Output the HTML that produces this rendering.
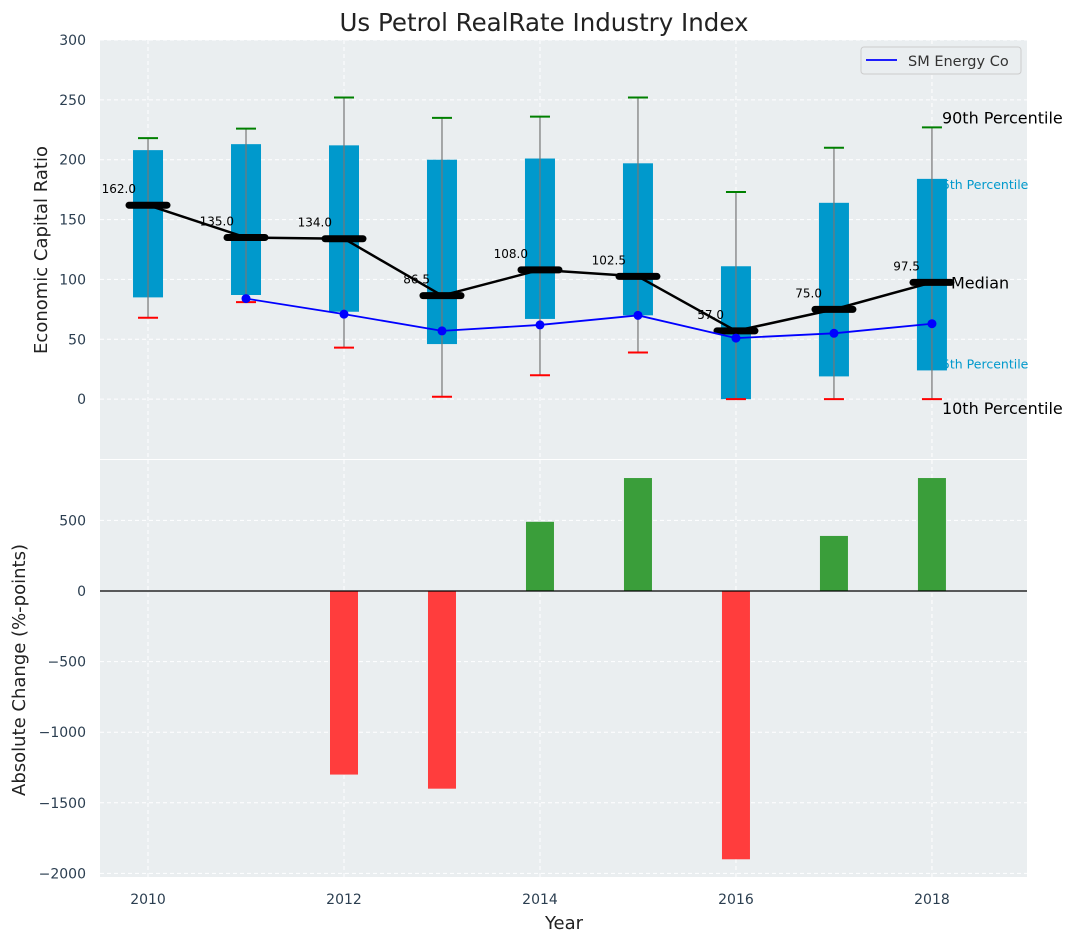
<!DOCTYPE html>
<html><head><meta charset="utf-8"><style>
body{margin:0;background:#fff;font-family:"Liberation Sans","DejaVu Sans",sans-serif}
svg text{font-family:"DejaVu Sans","Liberation Sans",sans-serif}
</style></head><body>
<svg id="c" width="1077" height="942" xmlns="http://www.w3.org/2000/svg"></svg>
<script>
const years=[2010,2011,2012,2013,2014,2015,2016,2017,2018];
const p10=[68,81,43,2,20,39,0,0,0];
const q25=[85,87,73,46,67,70,0,19,24];
const medians=[162,135,134,86.5,108,102.5,57,75,97.5];
const q75=[208,213,212,200,201,197,111,164,184];
const p90=[218,226,252,235,236,252,173,210,227];
const smYears=[2011,2012,2013,2014,2015,2016,2017,2018];
const smValues=[84,71,57,62,70,51,55,63];
const changeYears=[2012,2013,2014,2015,2016,2017,2018];
const changeValues=[-1300,-1400,490,800,-1900,390,800];
const topTicks=[0,50,100,150,200,250,300];
const botTicks=[-2000,-1500,-1000,-500,0,500];
const xTicks=[2010,2012,2014,2016,2018];

const NS="http://www.w3.org/2000/svg";
const svg=document.getElementById('c');
function el(tag,attrs,parent,text){const e=document.createElementNS(NS,tag);for(const k in attrs)e.setAttribute(k,attrs[k]);if(text!==undefined)e.textContent=text;(parent||svg).appendChild(e);return e;}
const L=100,R=1027;
const x=v=>L+(v-2009.51)/(2018.97-2009.51)*(R-L);
const T0=40,T1=459;
const yT=v=>T0+(300-v)/(350)*(T1-T0);
const B0=460,B1=877;
const yB=v=>591-v*(70.6/500);

let g=el('rect',{x:L,y:T0,width:R-L,height:T1-T0,fill:'#eaeef0'});

g=el('rect',{x:L,y:B0,width:R-L,height:B1-B0,fill:'#eaeef0'});


const grid=el('g',{stroke:'#fff','stroke-dasharray':'4,3','stroke-width':1});

topTicks.forEach(t=>el('line',{x1:L,x2:R,y1:yT(t),y2:yT(t)},grid));
botTicks.forEach(t=>el('line',{x1:L,x2:R,y1:yB(t),y2:yB(t)},grid));
xTicks.forEach(t=>{el('line',{x1:x(t),x2:x(t),y1:T0,y2:T1},grid);el('line',{x1:x(t),x2:x(t),y1:B0,y2:B1},grid);});

topTicks.forEach(t=>{const e=el('text',{x:L-14,y:yT(t)+5,'text-anchor':'end','font-size':14,fill:'#2b3e50'},svg,t);
});
botTicks.forEach(t=>{const e=el('text',{x:L-14,y:yB(t)+5,'text-anchor':'end','font-size':14,fill:'#2b3e50'},svg,t<0?'\u2212'+(-t):t);
});
xTicks.forEach(t=>{const e=el('text',{x:x(t),y:904,'text-anchor':'middle','font-size':14,fill:'#2b3e50'},svg,t);
});

years.forEach((yr,i)=>{
  const cx=x(yr);
  const grp=el('g',{});
  
  el('rect',{x:cx-15,y:yT(q75[i]),width:30,height:yT(q25[i])-yT(q75[i]),fill:'#0099cc'},grp);
  el('line',{x1:cx,x2:cx,y1:yT(p90[i]),y2:yT(p10[i]),stroke:'#777','stroke-width':1.2},grp);
  el('line',{x1:cx-10,x2:cx+10,y1:yT(p90[i]),y2:yT(p90[i]),stroke:'green','stroke-width':2},grp);
  el('line',{x1:cx-10,x2:cx+10,y1:yT(p10[i]),y2:yT(p10[i]),stroke:'red','stroke-width':2},grp);
});
let pts=years.map((yr,i)=>x(yr)+','+yT(medians[i])).join(' ');
g=el('polyline',{points:pts,fill:'none',stroke:'#000','stroke-width':2.5});

years.forEach((yr,i)=>{
  const cx=x(yr),cy=yT(medians[i]);
  const m=el('line',{x1:cx-19,x2:cx+19,y1:cy,y2:cy,stroke:'#000','stroke-width':7,'stroke-linecap':'round'});
  
  const t=el('text',{x:cx-12,y:cy-12,'text-anchor':'end','font-size':12,fill:'#000'},svg,medians[i].toFixed(1));
  
});
pts=smYears.map((yr,i)=>x(yr)+','+yT(smValues[i])).join(' ');
g=el('polyline',{points:pts,fill:'none',stroke:'#0000ff','stroke-width':1.8});

smYears.forEach((yr,i)=>{const c=el('circle',{cx:x(yr),cy:yT(smValues[i]),r:4.5,fill:'#0000ff'});
});

const lx=x(2018)+10;
let t;
t=el('text',{x:lx,y:yT(p90[8])-4,'font-size':16,fill:'#000'},svg,'90th Percentile');

t=el('text',{x:lx,y:yT(q75[8])+10,'font-size':12.5,fill:'#0099cc'},svg,'5th Percentile');

t=el('text',{x:x(2018)+19,y:yT(medians[8])+6,'font-size':16,fill:'#000'},svg,'Median');

t=el('text',{x:lx,y:yT(q25[8])-2,'font-size':12.5,fill:'#0099cc'},svg,'5th Percentile');

t=el('text',{x:lx,y:yT(p10[8])+15,'font-size':16,fill:'#000'},svg,'10th Percentile');


const lg=el('g',{});

el('rect',{x:861,y:47,width:160,height:27,rx:3,fill:'#eaeef0',stroke:'#ccc'},lg);
el('line',{x1:866,x2:897,y1:60,y2:60,stroke:'#0000ff','stroke-width':1.8},lg);
el('text',{x:908,y:66,'font-size':14.5,fill:'#333'},lg,'SM Energy Co');

changeYears.forEach((yr,i)=>{
  const v=changeValues[i];
  const y0=yB(Math.max(v,0)),y1=yB(Math.min(v,0));
  const b=el('rect',{x:x(yr)-14,y:y0,width:28,height:y1-y0,fill:v>=0?'#3a9e3a':'#ff3d3d'});
  
});
g=el('line',{x1:L,x2:R,y1:yB(0),y2:yB(0),stroke:'#000','stroke-width':1.2});


g=el('text',{x:544,y:31,'text-anchor':'middle','font-size':24.5,fill:'#222'},svg,'Us Petrol RealRate Industry Index');

g=el('text',{x:0,y:0,'text-anchor':'middle','font-size':18,fill:'#222',transform:'translate(47,250) rotate(-90)'},svg,'Economic Capital Ratio');

g=el('text',{x:0,y:0,'text-anchor':'middle','font-size':18,fill:'#222',transform:'translate(25,670) rotate(-90)'},svg,'Absolute Change (%-points)');

g=el('text',{x:564,y:929,'text-anchor':'middle','font-size':18,fill:'#222'},svg,'Year');

</script>
</body></html>
